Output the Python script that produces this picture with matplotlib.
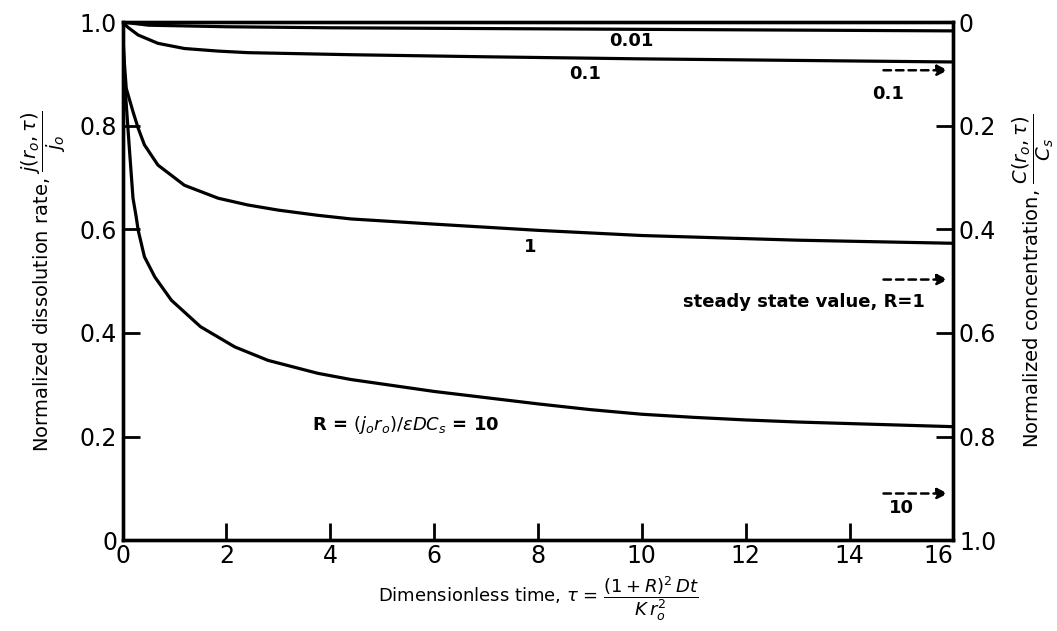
import numpy as np
import matplotlib.pyplot as plt

plt.rcParams['font.family'] = ['DejaVu Sans']
plt.rcParams['mathtext.fontset'] = 'dejavusans'

# curves, R = 0.01, 0.1, 1, 10
t_001 = [0, 0.5, 2, 4, 8, 12, 16]
j_001 = [1.0, 0.994, 0.991, 0.989, 0.987, 0.985, 0.983]

t_01 = [0, 0.1, 0.3, 0.68, 1.19, 1.84, 2.41, 4.4, 7, 10, 13, 16]
j_01 = [1.0, 0.99, 0.975, 0.959, 0.949, 0.944, 0.941, 0.937, 0.933, 0.929, 0.926, 0.923]

t_1 = [0, 0.02, 0.07, 0.2, 0.3, 0.42, 0.68, 1.19, 1.84, 2.41, 3.0, 3.76, 4.4, 6, 8, 10, 13, 16]
j_1 = [1.0, 0.94, 0.872, 0.827, 0.795, 0.763, 0.724, 0.685, 0.66, 0.647, 0.637, 0.627, 0.62,
       0.61, 0.598, 0.588, 0.579, 0.573]

t_10 = [0, 0.04, 0.13, 0.2, 0.26, 0.3, 0.42, 0.62, 0.94, 1.5, 2.16, 2.8, 3.76, 4.4, 6, 8, 9,
        10, 11, 12, 13, 14, 15, 16]
j_10 = [1.0, 0.885, 0.756, 0.66, 0.625, 0.598, 0.547, 0.508, 0.463, 0.412, 0.373, 0.347, 0.322,
        0.31, 0.287, 0.263, 0.252, 0.243, 0.237, 0.232, 0.228, 0.225, 0.222, 0.219]

# steady state values (left scale)
ss_01 = 0.907
ss_1 = 0.503
ss_10 = 0.09

xticks = [0, 2, 4, 6, 8, 10, 12, 14, 16]
yticks = [0, 0.2, 0.4, 0.6, 0.8, 1.0]
ylabels_left = ['0', '0.2', '0.4', '0.6', '0.8', '1.0']
ylabels_right = ['0', '0.2', '0.4', '0.6', '0.8', '1.0']

fig = plt.figure(figsize=(10.57, 6.31), dpi=100)
ax = fig.add_axes([0.116, 0.144, 0.786, 0.821])

lw = 2.3
for t, j in [(t_001, j_001), (t_01, j_01), (t_1, j_1), (t_10, j_10)]:
    ax.plot(t, j, color='black', lw=lw, solid_capstyle='round', solid_joinstyle='round')

ax.set_xlim(0, 16)
ax.set_ylim(0, 1.0)
for s in ax.spines.values():
    s.set_linewidth(2.4)

ax.set_xticks(xticks)
ax.set_xticklabels([str(v) for v in xticks])
ax.set_yticks(yticks)
ax.set_yticklabels(ylabels_left)
ax.tick_params(axis='both', direction='in', length=12, width=2, labelsize=17, pad=4)
ax.tick_params(axis='x', pad=3)
# last x label sits left of the corner, like the original
ax.get_xticklabels()[-1].set_horizontalalignment('right')

ax2 = ax.twinx()
ax2.set_ylim(1.0, 0)
ax2.set_yticks(yticks)
ax2.set_yticklabels(ylabels_right)
ax2.tick_params(axis='y', direction='in', length=12, width=2, labelsize=17, pad=4)
for s in ax2.spines.values():
    s.set_linewidth(2.4)

# steady state arrows
arr = dict(arrowstyle='-|>', linestyle=(0, (3, 2)), color='black', lw=1.8, mutation_scale=16)
for ss in [ss_01, ss_1, ss_10]:
    ax.annotate('', xy=(15.95, ss), xytext=(14.6, ss), arrowprops=arr)

ax.text(14.75, 0.862, '0.1', fontsize=13, ha='center', va='center', fontweight='bold')
ax.text(15.45, 0.46, 'steady state value, R=1', fontsize=13, ha='right', va='center',
        fontweight='bold')
ax.text(15.0, 0.062, '10', fontsize=13, ha='center', va='center', fontweight='bold')

# curve labels
ax.text(9.8, 0.963, '0.01', fontsize=13, ha='center', va='center', fontweight='bold')
ax.text(8.9, 0.900, '0.1', fontsize=13, ha='center', va='center', fontweight='bold')
ax.text(7.85, 0.565, '1', fontsize=13, ha='center', va='center', fontweight='bold')
ax.text(5.45, 0.222, r'R = $(j_o r_o)/\epsilon DC_s$ = 10', fontsize=13, ha='center', va='center',
        fontweight='bold')

ax.set_ylabel(r'Normalized dissolution rate, $\dfrac{j(r_o,\tau)}{j_o}$', fontsize=14, labelpad=8)
ax2.set_ylabel(r'Normalized concentration, $\dfrac{C(r_o,\tau)}{C_s}$', fontsize=14, labelpad=10)
ax.set_xlabel(r'Dimensionless time, $\tau$ = $\dfrac{(1+R)^2\,Dt}{K\,r_o^2}$', fontsize=13,
              labelpad=4)

fig.savefig('out.png', dpi=100)
